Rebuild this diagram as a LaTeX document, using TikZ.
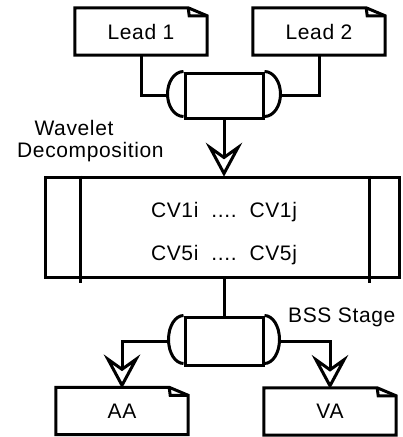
\documentclass[tikz,border=0pt]{standalone}
\usepackage{fontspec}
\setmainfont{Liberation Sans}[LetterSpace=3]
\newcommand{\docoutline}[1]{%
  \draw[ln] (#1.north west) -- ([xshift=-19pt]#1.north east) -- ([yshift=-8pt]#1.north east) -- (#1.south east) -- (#1.south west) -- cycle;
  \draw[ln] ([xshift=-19pt]#1.north east) -- ([xshift=-18pt,yshift=-8pt]#1.north east) -- ([yshift=-8pt]#1.north east);
}
\newcommand{\drumcaps}[3]{%
  \draw[ln] (#1.north west) arc[start angle=90, end angle=270, x radius=#2, y radius=#3];
  \draw[ln] (#1.north east) arc[start angle=90, end angle=-90, x radius=#2, y radius=#3];
}
% open notched arrowhead pointing down, tip at #1
\newcommand{\downhead}[1]{%
  \draw[ln, fill=white] ([yshift=2pt]#1) -- ++(-14,-26) -- ++(14,10) -- ++(14,-10) -- cycle;
}
\begin{document}
\begin{tikzpicture}[x=1pt,y=-1pt,
  ln/.style={line width=3pt, line join=miter},
  txt/.style={font=\fontsize{21}{25}\selectfont, inner sep=0pt},
  docbox/.style={txt, minimum width=132pt, minimum height=47pt},
  drum/.style={ln, draw, minimum width=78pt, minimum height=45pt, inner sep=0pt},
  procbox/.style={ln, draw, minimum width=354pt, minimum height=100pt, inner sep=0pt},
  wire/.style={ln}]
\useasboundingbox (0,0) rectangle (403,437);
% documents
\node[docbox] (l1) at (141,31.5) {Lead 1};
\node[docbox] (l2) at (319,31.5) {Lead 2};
\docoutline{l1}
\docoutline{l2}
% top drum
\node[drum] (d1) at (224,95.5) {};
\drumcaps{d1}{16pt}{22.5pt}
\coordinate (d1l) at ([xshift=-16pt]d1.west);
\coordinate (d1r) at ([xshift=16pt]d1.east);
\draw[wire] (l1.south) |- (d1l);
\draw[wire] (l2.south) |- (d1r);
% wavelet label
\node[txt] (wl) at (74,128) {Wavelet};
\node[txt, anchor=west] (dc) at (17,152) {Decomposition};
% process box
\node[procbox] (p) at (222,227) {};
\draw[ln] ([xshift=37pt]p.north west) -- ([xshift=37pt,yshift=-4pt]p.south west);
\draw[ln] ([xshift=-31pt]p.north east) -- ([xshift=-31pt,yshift=-4pt]p.south east);
\node[txt] (cv1) at (224,212) {CV1i\ \ ....\ \ CV1j};
\node[txt] (cv5) at (224,255) {CV5i\ \ ....\ \ CV5j};
\coordinate (t1) at (p.north -| d1.south);
\draw[wire] (d1.south) -- ([yshift=16pt]t1);
\downhead{t1}
% second drum
\node[drum, minimum height=48pt] (d2) at (224,341) {};
\drumcaps{d2}{15pt}{24pt}
\coordinate (d2l) at ([xshift=-15pt]d2.west);
\coordinate (d2r) at ([xshift=15pt]d2.east);
\draw[wire] (p.south -| d2.north) -- (d2.north);
\node[txt, anchor=west] (bss) at (288,317) {BSS Stage};
% outputs
\node[docbox] (aa) at (122,411) {AA};
\node[docbox] (va) at (330,411.5) {VA};
\docoutline{aa}
\docoutline{va}
\draw[wire] (d2l) -| ([yshift=16pt]aa.north);
\downhead{aa.north}
\draw[wire] (d2r) -| ([yshift=16pt]va.north);
\downhead{va.north}
\end{tikzpicture}
\end{document}
